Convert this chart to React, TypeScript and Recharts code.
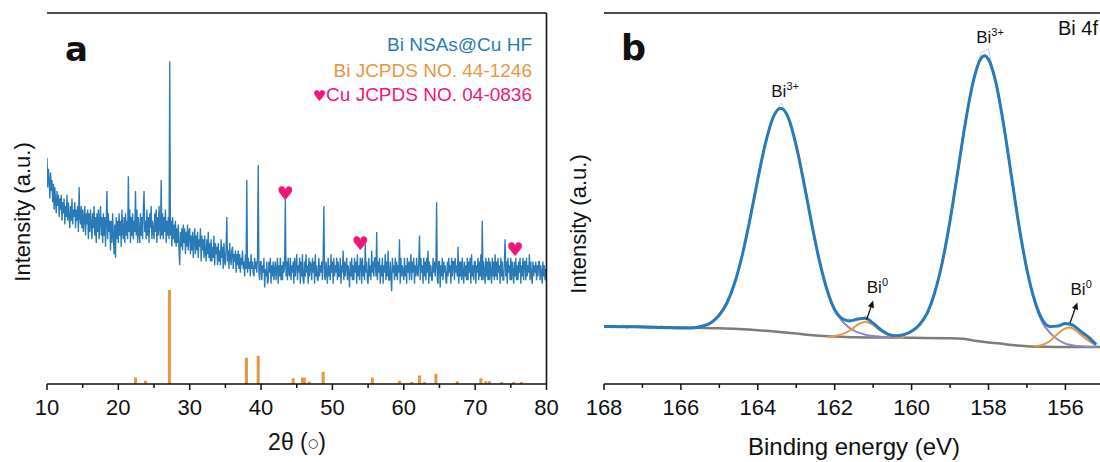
import { ComposedChart, Line, ReferenceLine, Scatter, XAxis, YAxis } from "recharts";

const INK = "#111111";
const BLUE = "#2a7ab8";
const ORANGE = "#e8973f";
const PINK = "#f0157c";
const PURPLE = "#8e85c8";
const GREY = "#7c7c7c";
const RAW = "#cdcdcd";
const FONT = '"Liberation Sans", Arial, sans-serif';

// ---------- (a) XRD pattern, one row per degree, sampled every 0.1 deg from 10 to 80 ----------
const XRD_START = 10;
const XRD_STEP = 0.1;
const XRD_INTENSITY = `
61 53 58 55 50 57 52 55 49 54
47 53 49 46 52 48 51 45 50 47
51 44 49 46 50 43 48 45 51 44
49 45 42 48 44 50 43 47 45 49
42 47 44 48 41 53 45 43 48 42
47 41 45 48 40 46 43 47 39 46
41 47 43 39 46 42 48 40 45 38
46 41 47 39 44 48 40 45 38 46
40 45 37 44 52 39 46 41 44 36
44 38 46 40 35 43 34 45 39 44
38 46 40 44 37 47 41 39 45 38
46 40 44 39 56 41 47 38 45 40
46 39 44 41 52 40 47 38 45 41
38 46 40 45 39 47 52 41 44 39
47 40 45 38 46 42 48 39 44 41
39 46 41 47 38 45 40 48 42 39
55 40 46 39 45 41 47 38 44 40
45 39 87 40 44 37 45 39 43 38
44 37 42 38 43 36 32 41 37 42
36 43 38 42 35 41 37 43 36 41
42 35 40 36 41 34 39 42 35 40
36 41 34 39 37 42 33 40 36 39
34 40 36 33 39 35 41 34 38 33
39 33 37 34 40 32 38 35 37 32
38 33 36 32 39 34 37 31 38 33
32 37 45 33 36 31 38 34 32 36
37 31 35 33 36 30 35 32 36 31
35 30 34 32 36 31 33 29 35 31
55 30 34 31 33 29 35 31 33 30
29 34 31 33 30 34 59 30 28 33
33 28 32 30 34 26 31 29 33 27
28 33 30 34 27 32 29 33 28 31
33 28 31 34 27 32 29 34 28 32
28 33 30 32 50 29 33 28 34 30
29 34 28 32 30 33 27 34 29 32
35 28 32 30 34 27 33 29 35 28
27 33 29 35 30 32 27 34 29 33
32 28 34 30 33 27 35 29 32 28
28 34 29 32 30 33 28 34 48 29
28 33 30 27 34 29 32 28 35 30
33 27 34 29 32 30 34 28 33 29
29 34 27 32 30 36 28 33 29 32
34 28 32 30 26 33 29 34 28 32
28 34 30 33 27 35 29 32 28 34
33 27 34 29 32 28 38 30 33 28
27 34 29 32 28 36 30 33 29 34
34 29 41 28 33 30 34 27 32 29
34 27 32 30 35 28 33 29 36 28
28 33 29 25 34 30 32 28 34 29
33 28 32 30 39 27 34 29 32 30
28 34 29 32 27 34 30 33 28 32
35 28 33 30 34 27 32 29 34 30
29 33 40 28 34 30 32 27 34 29
33 28 34 30 36 27 33 29 32 28
28 34 30 33 29 32 49 28 27 33
33 26 32 29 34 28 33 30 32 28
27 33 29 34 30 32 27 34 29 33
33 28 34 30 32 29 37 27 33 29
33 28 34 30 27 33 29 32 28 34
28 33 30 34 27 35 29 32 28 33
33 27 32 30 34 28 33 29 35 28
44 28 33 30 27 34 29 33 28 34
28 33 30 27 34 29 33 28 35 29
33 28 34 30 32 27 34 29 33 28
28 33 39 29 33 27 34 30 32 28
34 28 33 30 27 33 29 34 28 32
28 33 30 34 27 32 29 34 28 33
33 28 34 29 32 30 35 28 33 29
27 33 29 32 30 33 28 32 29 33
33 28 32 30 27 33 29 32 28 31
30
`
  .trim()
  .split(/\s+/)
  .map(Number);

// Bi JCPDS 44-1246 stick pattern (2theta, relative intensity)
const BI_REF_POS = [22.4, 23.8, 27.15, 37.95, 39.6, 44.5, 45.8, 46.05, 46.75, 48.7, 55.6, 59.4, 61.1, 62.2, 62.9, 64.5, 67.5, 70.8, 71.5, 72.0, 73.7, 75.4, 76.5];
const BI_REF_INT = [7, 3.5, 100, 28, 30, 6, 7, 7, 2.5, 13, 7, 3.5, 2, 9, 2, 11, 3, 6, 3, 3, 2, 2, 2];

// Cu reflections marked with hearts
const CU_POS = [43.4, 53.9, 75.6];
const CU_MARK = [51.1, 37.7, 36.1];

const XRD_TICKS = [10, 15, 20, 25, 30, 35, 40, 45, 50, 55, 60, 65, 70, 75, 80];

// ---------- (b) Bi 4f XPS, [binding energy, intensity] ----------
// prettier-ignore
const XPS_RAW = [
  [168.0, 15.3], [167.9, 15.9], [167.8, 14.9], [167.7, 15.8], [167.6, 15.2], [167.5, 16.1], [167.4, 14.8],
  [167.3, 15.7], [167.2, 15.0], [167.1, 16.0], [167.0, 15.1], [166.9, 15.6], [166.8, 14.7], [166.7, 15.5],
  [166.6, 15.0], [166.5, 15.8], [166.4, 14.6], [166.3, 15.4], [166.2, 14.9], [166.1, 15.6], [166.0, 14.8],
  [165.9, 15.3], [165.8, 14.9], [165.7, 15.5], [165.6, 15.1], [165.5, 15.6], [165.4, 15.9], [165.2, 16.3],
  [165.0, 19.2], [164.8, 21.4], [164.6, 27.9], [164.4, 34.4], [164.2, 45.3], [164.0, 54.6], [163.8, 65.8],
  [163.6, 71.2], [163.4, 75.8], [163.2, 72.4], [163.0, 63.5], [162.8, 55.0], [162.6, 42.7], [162.4, 33.9],
  [162.2, 25.0], [162.0, 20.5], [161.8, 17.3], [161.6, 17.5], [161.4, 17.0], [161.2, 18.3], [161.0, 16.0],
  [160.8, 15.1], [160.6, 13.0], [160.4, 12.2], [160.2, 13.7], [160.0, 13.8], [159.8, 16.5], [159.6, 18.5],
  [159.4, 25.3], [159.2, 32.4], [159.0, 44.8], [158.8, 56.5], [158.6, 71.4], [158.4, 80.8], [158.2, 89.2],
  [158.0, 90.4], [157.8, 80.2], [157.6, 70.4], [157.4, 55.2], [157.2, 42.9], [157.0, 30.2], [156.8, 22.9],
  [156.6, 17.8], [156.4, 15.0], [156.2, 16.2], [156.0, 15.8], [155.8, 16.4], [155.6, 13.4], [155.4, 12.9],
  [155.2, 10.3],
];

// prettier-ignore
const XPS_ENVELOPE = [
  [168.0, 15.5], [167.6, 15.45], [167.2, 15.4], [166.8, 15.3], [166.4, 15.2], [166.0, 15.1], [165.8, 15.1],
  [165.6, 15.25], [165.4, 15.7], [165.2, 16.65], [165.0, 18.6], [164.8, 21.9], [164.6, 27.3], [164.4, 34.9],
  [164.2, 44.6], [164.0, 55.2], [163.8, 64.9], [163.6, 71.9], [163.4, 74.3], [163.2, 71.6], [163.0, 64.2],
  [162.8, 54.2], [162.6, 43.3], [162.4, 33.3], [162.2, 25.4], [162.0, 20.0], [161.8, 17.6], [161.6, 17.0],
  [161.4, 17.5], [161.2, 17.7], [161.0, 16.4], [160.8, 14.6], [160.6, 13.4], [160.4, 13.0], [160.2, 13.3],
  [160.0, 14.2], [159.8, 15.9], [159.6, 19.0], [159.4, 24.6], [159.2, 32.9], [159.0, 44.0], [158.8, 57.2],
  [158.6, 70.5], [158.4, 81.4], [158.2, 87.7], [158.1, 88.5], [158.0, 87.5], [157.8, 80.9], [157.6, 69.5],
  [157.4, 55.8], [157.2, 42.2], [157.0, 30.8], [156.8, 22.5], [156.6, 17.3], [156.4, 15.5], [156.2, 15.6],
  [156.0, 16.3], [155.8, 15.8], [155.6, 14.2], [155.4, 12.6], [155.2, 10.6],
];

// prettier-ignore
const XPS_BACKGROUND = [
  [168.0, 15.5], [167.0, 15.4], [166.0, 15.2], [165.0, 15.0], [164.5, 14.8], [164.0, 14.5], [163.5, 14.1],
  [163.0, 13.6], [162.5, 13.1], [162.0, 12.8], [161.5, 12.6], [161.0, 12.55], [160.0, 12.45], [159.0, 12.35],
  [158.6, 12.1], [158.3, 11.6], [158.0, 11.2], [157.7, 10.9], [157.4, 10.5], [157.0, 10.2], [156.5, 10.05],
  [156.0, 10.0], [155.1, 10.0],
];

// Bi3+ 4f5/2 component
// prettier-ignore
const BI3_52 = [
  [165.6, 15.25], [165.4, 15.7], [165.2, 16.65], [165.0, 18.6], [164.8, 21.9], [164.6, 27.3], [164.4, 34.9],
  [164.2, 44.6], [164.0, 55.2], [163.8, 64.9], [163.6, 71.9], [163.4, 74.3], [163.2, 71.6], [163.0, 64.2],
  [162.8, 54.2], [162.6, 43.3], [162.4, 33.3], [162.2, 25.3], [162.0, 19.9], [161.8, 16.9], [161.6, 15.0],
  [161.4, 13.9], [161.2, 13.3], [161.0, 12.95], [160.8, 12.75], [160.6, 12.6], [160.4, 12.5],
];

// Bi3+ 4f7/2 component
// prettier-ignore
const BI3_72 = [
  [160.4, 12.85], [160.2, 13.3], [160.0, 14.2], [159.8, 15.9], [159.6, 19.0], [159.4, 24.6], [159.2, 32.9],
  [159.0, 44.0], [158.8, 57.2], [158.6, 70.5], [158.4, 81.4], [158.2, 87.7], [158.1, 88.5], [158.0, 87.5],
  [157.8, 80.9], [157.6, 69.5], [157.4, 55.8], [157.2, 42.2], [157.0, 30.8], [156.8, 22.3], [156.6, 16.6],
  [156.4, 13.8], [156.2, 12.0], [156.0, 10.9], [155.8, 10.4], [155.6, 10.15], [155.4, 10.05], [155.2, 10.0],
];

// Bi0 components
// prettier-ignore
const BI0_52 = [
  [162.2, 12.75], [162.0, 12.95], [161.8, 13.45], [161.6, 14.45], [161.4, 16.0], [161.2, 16.8],
  [161.0, 15.9], [160.8, 14.3], [160.6, 13.15], [160.4, 12.6], [160.2, 12.45],
];
// prettier-ignore
const BI0_72 = [
  [156.8, 10.1], [156.6, 10.5], [156.4, 11.6], [156.2, 13.5], [156.0, 15.0], [155.9, 15.2],
  [155.8, 14.9], [155.6, 13.3], [155.4, 11.7], [155.2, 10.5],
];

const XPS_TICKS = [168, 167, 166, 165, 164, 163, 162, 161, 160, 159, 158, 157, 156];

// peak labels (label centre, baseline) in data units
const BI3_LABELS = [
  [163.29, 77.4],
  [157.96, 91.8],
];
const BI0_LABELS = [
  [160.89, 24.5],
  [155.59, 24.0],
];
// arrows from Bi0 peak towards its label: [fromE, fromI, toE, toI]
const BI0_ARROWS = [
  [161.17, 17.3, 161.0, 22.5],
  [155.88, 16.4, 155.69, 22.0],
];

const pairs = (rows: number[][]) => rows.map(([x, y]) => ({ x, y }));

const xrdData = XRD_INTENSITY.map((y, i) => ({ x: XRD_START + i * XRD_STEP, y }));
const cuData = CU_POS.map((x, i) => ({ x, y: CU_MARK[i] }));
// sticks: baseline -> top, then a gap so the line breaks between them
const stickData = BI_REF_POS.flatMap((x, i) => [
  { x, y: 0 },
  { x, y: BI_REF_INT[i] },
  { x, y: null },
]);

function AxisTick(props: any) {
  const { x, y, payload, major } = props;
  const isMajor = major(payload.value);
  return (
    <g>
      <line x1={x} x2={x} y1={y} y2={y + (isMajor ? 6 : 4)} stroke={INK} strokeWidth={1.5} />
      {isMajor && (
        <text x={x} y={y + 31} textAnchor="middle" fontSize={22} fill={INK} fontFamily={FONT}>
          {payload.value}
        </text>
      )}
    </g>
  );
}

function Heart(props: any) {
  const { cx, cy } = props;
  return (
    <text x={cx} y={cy + 6} textAnchor="middle" fontSize={19} fill={PINK} fontFamily="DejaVu Sans">
      ♥
    </text>
  );
}

function SupLabel(sup: string) {
  return (props: any) => {
    const { cx, cy } = props;
    return (
      <text x={cx} y={cy} textAnchor="middle" fontSize={17} fill={INK} fontFamily={FONT}>
        Bi
        <tspan dy={-7} fontSize={11}>
          {sup}
        </tspan>
      </text>
    );
  };
}

function Arrow(props: any) {
  const { x1, y1, x2, y2 } = props;
  const a = Math.atan2(y2 - y1, x2 - x1);
  const L = 7;
  const W = 3.2;
  const bx = x2 - L * Math.cos(a);
  const by = y2 - L * Math.sin(a);
  const pts = `${x2},${y2} ${bx + W * Math.sin(a)},${by - W * Math.cos(a)} ${bx - W * Math.sin(a)},${by + W * Math.cos(a)}`;
  return (
    <g>
      <line x1={x1} y1={y1} x2={bx} y2={by} stroke={INK} strokeWidth={1.3} />
      <polygon points={pts} fill={INK} />
    </g>
  );
}

const AXIS_LINE = { stroke: INK, strokeWidth: 1.6 };

function XrdPanel() {
  return (
    <ComposedChart width={580} height={462} margin={{ top: 13, right: 33.5, bottom: 0, left: 47 }}>
      <XAxis
        dataKey="x"
        type="number"
        domain={[10, 80]}
        ticks={XRD_TICKS}
        interval={0}
        tickSize={0}
        tickMargin={0}
        height={78}
        axisLine={AXIS_LINE}
        tickLine={false}
        allowDataOverflow
        tick={(p: any) => <AxisTick {...p} major={(v: number) => v % 10 === 0} />}
      />
      <YAxis dataKey="y" type="number" domain={[0, 100]} width={0} tick={false} tickLine={false} axisLine={AXIS_LINE} allowDataOverflow />
      <YAxis yAxisId="ref" type="number" domain={[0, 395]} hide />
      <Line
        yAxisId="ref"
        data={stickData}
        dataKey="y"
        type="linear"
        stroke={ORANGE}
        strokeWidth={3}
        dot={false}
        connectNulls={false}
        isAnimationActive={false}
      />
      <Line data={xrdData} dataKey="y" type="linear" stroke={BLUE} strokeWidth={1.35} dot={false} isAnimationActive={false} />
      <Scatter data={cuData} dataKey="y" shape={Heart} isAnimationActive={false} />
      <ReferenceLine y={100} stroke={INK} strokeWidth={1.6} />
      <ReferenceLine x={80} stroke={INK} strokeWidth={1.6} />
    </ComposedChart>
  );
}

function XpsPanel() {
  const curve = (rows: number[][], color: string, w: number, type: "monotone" | "linear" = "monotone") => (
    <Line data={pairs(rows)} dataKey="y" type={type} stroke={color} strokeWidth={w} dot={false} isAnimationActive={false} />
  );
  return (
    <ComposedChart width={550} height={462} margin={{ top: 13, right: 0, bottom: 0, left: 54 }}>
      <XAxis
        dataKey="x"
        type="number"
        domain={[155.1, 168]}
        reversed
        ticks={XPS_TICKS}
        interval={0}
        tickSize={0}
        tickMargin={0}
        height={78}
        axisLine={AXIS_LINE}
        tickLine={false}
        allowDataOverflow
        tick={(p: any) => <AxisTick {...p} major={(v: number) => v % 2 === 0} />}
      />
      <YAxis dataKey="y" type="number" domain={[0, 100]} width={0} tick={false} tickLine={false} axisLine={AXIS_LINE} allowDataOverflow />
      {curve(XPS_RAW, RAW, 1, "linear")}
      {curve(XPS_BACKGROUND, GREY, 2.5)}
      {curve(BI3_52, PURPLE, 2)}
      {curve(BI3_72, PURPLE, 2)}
      {curve(BI0_52, ORANGE, 2)}
      {curve(BI0_72, ORANGE, 2)}
      {curve(XPS_ENVELOPE, BLUE, 3)}
      <Scatter data={pairs(BI3_LABELS)} dataKey="y" shape={SupLabel("3+")} isAnimationActive={false} />
      <Scatter data={pairs(BI0_LABELS)} dataKey="y" shape={SupLabel("0")} isAnimationActive={false} />
      {BI0_ARROWS.map(([e1, i1, e2, i2], k) => (
        <ReferenceLine
          key={k}
          segment={[
            { x: e1, y: i1 },
            { x: e2, y: i2 },
          ]}
          shape={Arrow}
        />
      ))}
      <ReferenceLine y={100} stroke={INK} strokeWidth={1.6} />
    </ComposedChart>
  );
}

export default function App() {
  return (
    <div
      style={{
        position: "absolute",
        left: 0,
        top: 0,
        width: 1100,
        height: 462,
        background: "#fff",
        overflow: "hidden",
        fontFamily: FONT,
      }}
    >
      <div style={{ position: "absolute", left: 0, top: 0 }}>
        <XrdPanel />
      </div>
      <div style={{ position: "absolute", left: 550, top: 0 }}>
        <XpsPanel />
      </div>
      <svg width={1100} height={462} style={{ position: "absolute", left: 0, top: 0, pointerEvents: "none" }} fontFamily={FONT}>
        <text x={65} y={61} fontSize={34} fontWeight="bold" fontFamily="DejaVu Sans" fill={INK}>
          a
        </text>
        <text x={621} y={60} fontSize={35} fontWeight="bold" fontFamily="DejaVu Sans" fill={INK}>
          b
        </text>
        <text x={532} y={51} fontSize={19} textAnchor="end" fill={BLUE}>
          Bi NSAs@Cu HF
        </text>
        <text x={532} y={77} fontSize={19} textAnchor="end" fill={ORANGE}>
          Bi JCPDS NO. 44-1246
        </text>
        <text x={532} y={101} fontSize={19} textAnchor="end" fill={PINK}>
          <tspan fontSize={15} fontFamily="DejaVu Sans">
            ♥
          </tspan>
          Cu JCPDS NO. 04-0836
        </text>
        <text x={1098} y={35} fontSize={20} textAnchor="end" fill={INK}>
          Bi 4f
        </text>
        <text x={297} y={450} fontSize={23} textAnchor="middle" fill={INK}>
          2θ (<tspan fontSize={12} dy={-3} fontFamily="DejaVu Sans">○</tspan><tspan dy={3}>)</tspan>
        </text>
        <text x={854} y={455} fontSize={24} textAnchor="middle" fill={INK}>
          Binding energy (eV)
        </text>
        <text transform="translate(30,212) rotate(-90)" fontSize={22} textAnchor="middle" fill={INK}>
          Intensity (a.u.)
        </text>
        <text transform="translate(586,224) rotate(-90)" fontSize={22} textAnchor="middle" fill={INK}>
          Intensity (a.u.)
        </text>
      </svg>
    </div>
  );
}
